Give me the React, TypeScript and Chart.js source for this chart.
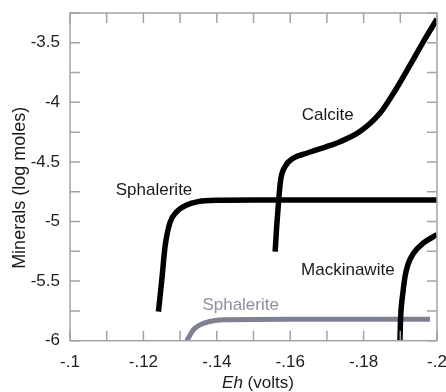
import React, { useEffect, useRef } from "react";
import { Chart, registerables } from "chart.js";

Chart.register(...registerables);

// Eh (volts) and mineral amounts (log moles)
const sphaleriteEh = [-0.1241, -0.125, -0.1259, -0.1272, -0.1291, -0.1318, -0.1349, -0.14, -0.15, -0.17, -0.2];
const sphaleriteLog = [-5.756, -5.494, -5.211, -5.012, -4.917, -4.861, -4.833, -4.822, -4.82, -4.82, -4.82];

const calciteEh = [-0.1559, -0.1563, -0.1568, -0.1574, -0.1586, -0.1608, -0.1645, -0.1699, -0.1736, -0.179, -0.1845, -0.1886, -0.1926, -0.1963, -0.2];
const calciteLog = [-5.252, -5.05, -4.846, -4.651, -4.539, -4.469, -4.427, -4.372, -4.33, -4.245, -4.09, -3.9, -3.69, -3.49, -3.3];

const mackinawiteEh = [-0.1899, -0.1901, -0.1907, -0.1913, -0.1921, -0.1935, -0.1963, -0.2];
const mackinawiteLog = [-6.0, -5.8, -5.6, -5.46, -5.36, -5.27, -5.18, -5.11];

const sphalerite2Eh = [-0.1318, -0.1322, -0.1336, -0.1354, -0.1381, -0.1418, -0.16, -0.1981];
const sphalerite2Log = [-6.0, -5.98, -5.91, -5.867, -5.839, -5.825, -5.82, -5.82];

// curve labels
const labelTexts = ["Sphalerite", "Calcite", "Mackinawite", "Sphalerite"];
const labelEh = [-0.1229, -0.1702, -0.1757, -0.1465];
const labelLog = [-4.735, -4.106, -5.412, -5.7];
const labelColors = ["#1a1a1a", "#1a1a1a", "#1a1a1a", "#8d90a0"];

const xMin = -0.2;
const xMax = -0.1;
const yMin = -6;
const yMax = -3.25;

const FONT = "'Liberation Sans', Arial, Helvetica, sans-serif";

function pts(xs: number[], ys: number[]) {
  return xs.map((x, i) => ({ x, y: ys[i] }));
}

const framePlugin = {
  id: "frame",
  afterDatasetsDraw(chart: any) {
    const { ctx, chartArea, scales } = chart;
    const { left, right, top, bottom } = chartArea;
    const xs = scales.x;
    const ys = scales.y;
    ctx.save();
    // labels
    ctx.font = `17px ${FONT}`;
    ctx.textAlign = "center";
    ctx.textBaseline = "middle";
    labelTexts.forEach((t, i) => {
      ctx.fillStyle = labelColors[i];
      ctx.fillText(t, xs.getPixelForValue(labelEh[i]), ys.getPixelForValue(labelLog[i]));
    });
    // frame
    ctx.strokeStyle = "#a3a3a3";
    ctx.lineWidth = 1.5;
    ctx.strokeRect(left, top, right - left, bottom - top);
    const tl = 10;
    ctx.beginPath();
    xs.ticks.forEach((t: any) => {
      const px = xs.getPixelForValue(t.value);
      ctx.moveTo(px, bottom);
      ctx.lineTo(px, bottom - tl);
      ctx.moveTo(px, top);
      ctx.lineTo(px, top + tl);
    });
    ys.ticks.forEach((t: any) => {
      const py = ys.getPixelForValue(t.value);
      ctx.moveTo(left, py);
      ctx.lineTo(left + tl, py);
      ctx.moveTo(right, py);
      ctx.lineTo(right - tl, py);
    });
    ctx.stroke();
    // axis titles
    ctx.fillStyle = "#1a1a1a";
    ctx.textBaseline = "middle";
    const cx = (left + right) / 2 + 4.5;
    const ty = bottom + 43;
    ctx.font = `italic 17px ${FONT}`;
    const w1 = ctx.measureText("Eh").width;
    ctx.font = `17px ${FONT}`;
    const w2 = ctx.measureText(" (volts)").width;
    const sx = cx - (w1 + w2) / 2;
    ctx.textAlign = "left";
    ctx.font = `italic 17px ${FONT}`;
    ctx.fillText("Eh", sx, ty);
    ctx.font = `17px ${FONT}`;
    ctx.fillText(" (volts)", sx + w1, ty);
    ctx.save();
    ctx.translate(left - 50, (top + bottom) / 2 + 11);
    ctx.rotate(-Math.PI / 2);
    ctx.textAlign = "center";
    ctx.font = `18px ${FONT}`;
    ctx.fillText("Minerals (log moles)", 0, 0);
    ctx.restore();
    ctx.restore();
  },
};

export default function App() {
  const ref = useRef<HTMLCanvasElement>(null);
  useEffect(() => {
    if (!ref.current) return;
    const black = "#000000";
    const gray = "#7e8192";
    const chart = new Chart(ref.current, {
      type: "line",
      data: {
        datasets: [
          { label: "Sphalerite", data: pts(sphaleriteEh, sphaleriteLog), borderColor: black, borderWidth: 5.5 },
          { label: "Calcite", data: pts(calciteEh, calciteLog), borderColor: black, borderWidth: 5.5 },
          { label: "Mackinawite", data: pts(mackinawiteEh, mackinawiteLog), borderColor: black, borderWidth: 5.5 },
          { label: "Sphalerite (2)", data: pts(sphalerite2Eh, sphalerite2Log), borderColor: gray, borderWidth: 5 },
        ].map((d) => ({
          ...d,
          pointRadius: 0,
          cubicInterpolationMode: "monotone" as const,
          fill: false,
          borderCapStyle: "butt" as const,
        })),
      },
      options: {
        animation: false,
        responsive: false,
        layout: { padding: { left: 0, right: 9, top: 13, bottom: 0 } },
        plugins: { legend: { display: false }, tooltip: { enabled: false } },
        scales: {
          x: {
            type: "linear",
            min: xMin,
            max: xMax,
            reverse: true,
            grid: { display: false, drawTicks: false },
            border: { display: false },
            ticks: {
              stepSize: 0.01,
              autoSkip: false,
              maxRotation: 0,
              padding: 11,
              color: "#222",
              font: { family: FONT, size: 17 },
              callback: (v: any) => {
                const n = Math.round(Number(v) * 100);
                if (n % 2 !== 0) return "";
                return (n / 100).toString().replace("0.", ".");
              },
            },
            afterFit: (s: any) => {
              s.height = 51.3;
              s.paddingLeft = 0;
              s.paddingRight = 0;
            },
          },
          y: {
            type: "linear",
            min: yMin,
            max: yMax,
            grid: { display: false, drawTicks: false },
            border: { display: false },
            ticks: {
              stepSize: 0.25,
              autoSkip: false,
              padding: 10,
              color: "#222",
              font: { family: FONT, size: 17 },
              callback: (v: any) => {
                const n = Math.round(Number(v) * 4);
                if (n % 2 !== 0) return "";
                return (n / 4).toString();
              },
            },
            afterFit: (s: any) => {
              s.width = 70;
              s.paddingTop = 0;
              s.paddingBottom = 0;
            },
          },
        },
      },
      plugins: [framePlugin],
    });
    return () => chart.destroy();
  }, []);
  return (
    <div style={{ position: "absolute", left: 0, top: 0, width: 446, height: 392 }}>
      <canvas ref={ref} width={446} height={392} style={{ width: 446, height: 392, display: "block" }} />
    </div>
  );
}
